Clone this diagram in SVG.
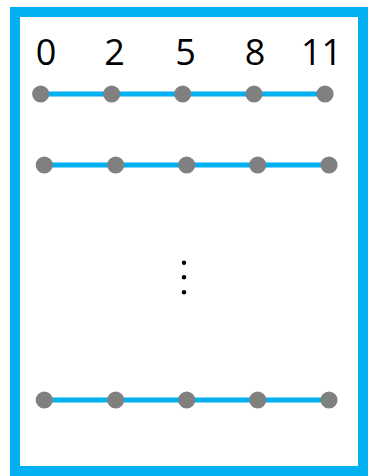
<svg xmlns="http://www.w3.org/2000/svg" width="372" height="476" viewBox="0 0 372 476">
<style>
.frame{fill:#fff;stroke:#00b0f0;stroke-width:10}
.edge{stroke:#00b0f0;stroke-width:5}
.node{fill:#808080}
.lbl{font-family:"Open Sans","Liberation Sans",sans-serif;font-size:36px;fill:#000;text-anchor:middle}
.dot{fill:#000}
</style>
<rect class="frame" x="15" y="12" width="348" height="459"/>
<g id="labels">
<text class="lbl" x="46" y="65">0</text>
<text class="lbl" x="114.5" y="65">2</text>
<text class="lbl" x="185.5" y="65">5</text>
<text class="lbl" x="255" y="65">8</text>
<text class="lbl" x="321.5" y="65">11</text>
</g>
<g id="connectors">
<line class="edge" x1="40.7" y1="94" x2="325" y2="94"/>
<line class="edge" x1="44.3" y1="165" x2="329" y2="165"/>
<line class="edge" x1="44.3" y1="400" x2="329" y2="400"/>
</g>
<g id="row1">
<circle class="node" cx="40.7" cy="94" r="8.6"/>
<circle class="node" cx="111.7" cy="94" r="8.6"/>
<circle class="node" cx="182.7" cy="94" r="8.6"/>
<circle class="node" cx="254" cy="94" r="8.6"/>
<circle class="node" cx="325" cy="94" r="8.6"/>
</g>
<g id="row2">
<circle class="node" cx="44.3" cy="165" r="8.6"/>
<circle class="node" cx="115.7" cy="165" r="8.6"/>
<circle class="node" cx="186.7" cy="165" r="8.6"/>
<circle class="node" cx="257.7" cy="165" r="8.6"/>
<circle class="node" cx="329" cy="165" r="8.6"/>
</g>
<g id="row3">
<circle class="node" cx="44.3" cy="400" r="8.6"/>
<circle class="node" cx="115.7" cy="400" r="8.6"/>
<circle class="node" cx="186.7" cy="400" r="8.6"/>
<circle class="node" cx="257.7" cy="400" r="8.6"/>
<circle class="node" cx="329" cy="400" r="8.6"/>
</g>
<g id="ellipsis">
<circle class="dot" cx="184" cy="262.7" r="2.2"/>
<circle class="dot" cx="184" cy="277.3" r="2.2"/>
<circle class="dot" cx="184" cy="292.3" r="2.2"/>
</g>
</svg>
